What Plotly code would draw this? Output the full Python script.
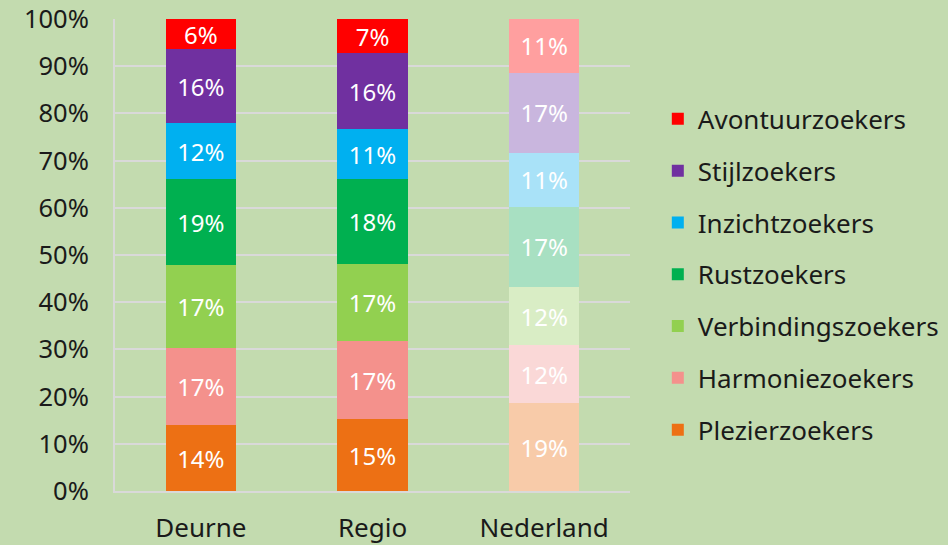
import plotly.graph_objects as go

categories = ["Deurne", "Regio", "Nederland"]

series_names = ["Plezierzoekers", "Harmoniezoekers", "Verbindingszoekers",
                "Rustzoekers", "Inzichtzoekers", "Stijlzoekers", "Avontuurzoekers"]

plezier = [13.9, 15.2, 18.6]
harmonie = [16.5, 16.5, 12.3]
verbinding = [17.4, 16.5, 12.3]
rust = [18.2, 17.8, 17.0]
inzicht = [11.9, 10.6, 11.4]
stijl = [15.7, 16.1, 17.0]
avontuur = [6.4, 7.3, 11.4]

plezier_labels = ["14%", "15%", "19%"]
harmonie_labels = ["17%", "17%", "12%"]
verbinding_labels = ["17%", "17%", "12%"]
rust_labels = ["19%", "18%", "17%"]
inzicht_labels = ["12%", "11%", "11%"]
stijl_labels = ["16%", "16%", "17%"]
avontuur_labels = ["6%", "7%", "11%"]

# colour for Deurne/Regio, and lighter colour for Nederland
colors = {
    "Plezierzoekers": ("#ED7014", "#F8CBA9"),
    "Harmoniezoekers": ("#F4918C", "#FAD8D7"),
    "Verbindingszoekers": ("#92D050", "#D9EDC5"),
    "Rustzoekers": ("#00B050", "#A8E0C2"),
    "Inzichtzoekers": ("#00B0F0", "#A9E2F8"),
    "Stijlzoekers": ("#7030A0", "#C9B6DE"),
    "Avontuurzoekers": ("#FF0000", "#FF9F9F"),
}

values = [plezier, harmonie, verbinding, rust, inzicht, stijl, avontuur]
labels = [plezier_labels, harmonie_labels, verbinding_labels, rust_labels,
          inzicht_labels, stijl_labels, avontuur_labels]

FONT = "Noto Sans"
TXT = "#1a1a1a"
fig = go.Figure()
n = len(series_names)
for i, (name, vals, labs) in enumerate(zip(series_names, values, labels)):
    c, light = colors[name]
    fig.add_trace(go.Bar(
        x=categories, y=vals, name=name, text=labs,
        textposition="inside", insidetextanchor="middle",
        textfont=dict(color="white", size=24, family=FONT),
        marker=dict(color=[c, c, light], line=dict(width=0)),
        legendgroup=name,
        legendrank=n - i,
        hoverinfo="skip",
    ))

fig.update_layout(
    barmode="stack",
    bargap=0.59,
    width=948, height=545,
    margin=dict(l=115, r=318, t=19, b=54, autoexpand=False),
    paper_bgcolor="#C3DBAF",
    plot_bgcolor="#C3DBAF",
    font=dict(family=FONT, size=26, color=TXT),
    uniformtext=dict(minsize=24, mode="show"),
    legend=dict(
        x=1.054, y=0.838, xanchor="left", yanchor="top",
        traceorder="grouped",
        tracegroupgap=15,
        font=dict(size=26, family=FONT, color=TXT),
        bgcolor="rgba(0,0,0,0)",
    ),
    showlegend=True,
)
fig.update_yaxes(
    range=[0, 100], dtick=10, ticksuffix="%", automargin=False,
    showgrid=True, gridcolor="#D9D9D9", gridwidth=2,
    showline=True, linecolor="#D9D9D9", linewidth=2,
    zeroline=False, ticks="", ticklabelstandoff=19,
    tickfont=dict(size=25.5, family=FONT, color=TXT),
)
fig.update_xaxes(
    showline=True, linecolor="#D9D9D9", linewidth=2, automargin=False,
    showgrid=False, ticks="", ticklabelstandoff=13,
    tickfont=dict(size=26, family=FONT, color=TXT),
)
fig.write_html("out.html", config={"displayModeBar": False},
               post_script="document.body.style.margin='0';")
